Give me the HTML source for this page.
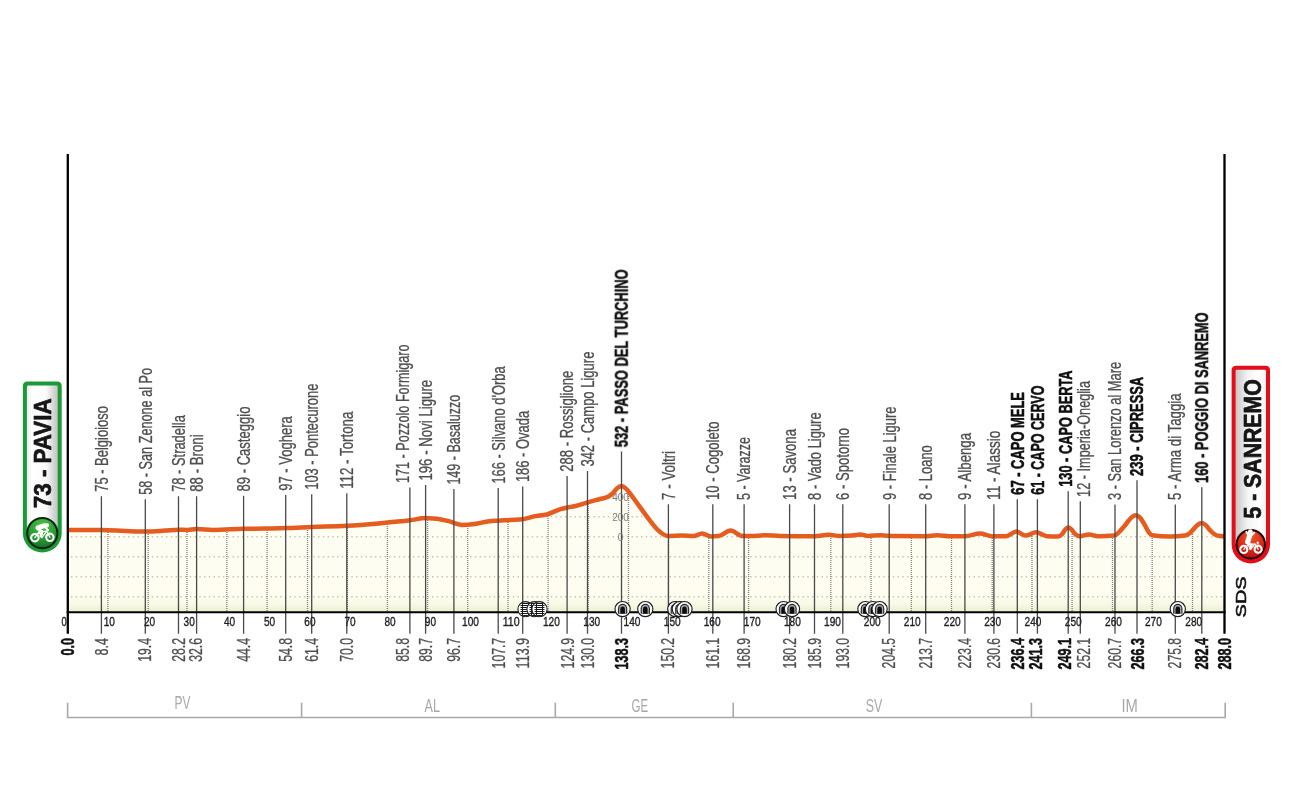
<!DOCTYPE html>
<html lang="it">
<head>
<meta charset="utf-8">
<title>Pavia - Sanremo, altimetria</title>
<style>
html,body{margin:0;padding:0;background:#fff;}
body{width:1300px;height:800px;overflow:hidden;}
svg{display:block;}
text{font-family:"Liberation Sans",sans-serif;}
.aa{filter:grayscale(1);}
.pl{font-size:17.6px;fill:#4e4e4e;stroke:#4e4e4e;stroke-width:.3px;}
.plb{font-size:17.9px;fill:#101010;font-weight:bold;stroke:#101010;stroke-width:.5px;}
.di{font-size:17.6px;fill:#4e4e4e;text-anchor:end;stroke:#4e4e4e;stroke-width:.3px;}
.dib{font-size:17.9px;fill:#101010;font-weight:bold;text-anchor:end;stroke:#101010;stroke-width:.5px;}
.tk{font-size:12.4px;fill:#1e1e1e;text-anchor:middle;stroke:#1e1e1e;stroke-width:.35px;}
.alt{font-size:10px;fill:#7d7d7d;text-anchor:middle;}
.pv{font-size:18px;fill:#a8a8a8;text-anchor:middle;}
.badge{font-size:23.6px;font-weight:bold;fill:#161616;stroke:#161616;stroke-width:.7px;stroke-linejoin:round;}
.sds{font-size:15px;fill:#111;stroke:#111;stroke-width:.55px;}
.lead{stroke:#4a4a4a;stroke-width:1.3;fill:none;}
.vdot{stroke:#7c7c7c;stroke-width:1.3;stroke-dasharray:1 1;fill:none;}
.hdot{stroke:#c2c5b2;stroke-width:1.4;stroke-dasharray:1.4 3.35;fill:none;}
</style>
</head>
<body>
<svg width="1300" height="800" viewBox="0 0 1300 800">
<defs>
<linearGradient id="gFill" gradientUnits="userSpaceOnUse" x1="0" y1="480" x2="0" y2="612">
<stop offset="0" stop-color="#fffef5"/><stop offset="0.88" stop-color="#fefdf0"/><stop offset="0.94" stop-color="#f8f9e6"/><stop offset="1" stop-color="#ebeed0"/>
</linearGradient>
<linearGradient id="gPavia" x1="0" y1="0" x2="1" y2="0">
<stop offset="0" stop-color="#ececec"/><stop offset="0.18" stop-color="#ffffff"/><stop offset="0.62" stop-color="#fbfbfb"/><stop offset="1" stop-color="#c2c2c2"/>
</linearGradient>
<linearGradient id="gSanremo" x1="0" y1="0" x2="1" y2="0">
<stop offset="0" stop-color="#c6c6c6"/><stop offset="0.4" stop-color="#f4f4f4"/><stop offset="0.8" stop-color="#ffffff"/><stop offset="1" stop-color="#f2f2f2"/>
</linearGradient>
<radialGradient id="gGreen" cx="0.5" cy="0.22" r="0.85">
<stop offset="0" stop-color="#4cc13f"/><stop offset="0.55" stop-color="#2a9e33"/><stop offset="1" stop-color="#15682a"/>
</radialGradient>
<radialGradient id="gRed" cx="0.5" cy="0.22" r="0.85">
<stop offset="0" stop-color="#f0572a"/><stop offset="0.55" stop-color="#dc2a18"/><stop offset="1" stop-color="#a80f10"/>
</radialGradient>
<clipPath id="cArea"><path d="M68,529.9 C79.1,529.90 90.3,529.90 101.4,529.9 C109.3,529.90 117.1,530.60 125,530.9 C131.8,531.16 138.5,531.60 145.3,531.6 C151.9,531.60 158.4,531.00 165,530.6 C169.5,530.33 174.0,529.70 178.5,529.7 C181.3,529.70 184.2,529.90 187,529.9 C190.2,529.90 193.4,529.00 196.6,529 C202.1,529.00 207.5,529.90 213,529.9 C223.2,529.90 233.4,529.04 243.6,528.8 C250.7,528.64 257.9,528.62 265,528.5 C271.9,528.38 278.8,528.30 285.7,528.1 C294.4,527.84 303.1,527.34 311.8,527 C323.4,526.55 335.1,526.45 346.7,525.8 C357.3,525.21 368.0,524.33 378.6,523.4 C389.1,522.49 399.5,521.62 410,520.3 C415.2,519.64 420.5,518.10 425.7,518.1 C433.4,518.10 441.1,519.13 448.8,521.2 C450.6,521.69 452.5,522.55 454.3,523.1 C456.8,523.84 459.2,524.90 461.7,524.9 C466.0,524.90 470.3,524.54 474.6,524 C479.5,523.38 484.5,521.72 489.4,521.2 C492.5,520.87 495.5,520.89 498.6,520.7 C502.3,520.47 506.0,520.13 509.7,519.9 C514.1,519.62 518.5,519.67 522.9,519.2 C526.6,518.81 530.3,517.17 534,516.4 C538.3,515.50 542.6,515.52 546.9,514.4 C551.2,513.18 555.5,510.67 559.8,509.4 C562.4,508.63 565.0,508.05 567.6,507.5 C569.9,507.00 572.3,506.73 574.6,506.2 C578.9,505.23 583.2,503.57 587.5,502.4 C591.7,501.17 595.8,500.13 600,499 C602.7,498.27 605.3,498.27 608,496.8 C609.7,495.88 611.3,494.74 613,493.1 C614.3,491.79 615.7,489.55 617,488.4 C618.5,487.11 620.0,486.10 621.5,486.1 C623.0,486.10 624.5,487.32 626,488.6 C628.0,490.31 630.0,493.49 632,496.1 C634.7,499.58 637.3,503.46 640,507.1 C643.3,511.65 646.7,516.40 650,520.6 C652.7,523.96 655.3,527.57 658,530.1 C659.7,531.68 661.3,533.11 663,534.1 C664.8,535.19 666.7,536.10 668.5,536.1 C672.9,536.10 677.3,535.60 681.7,535.6 C685.7,535.60 689.7,536.10 693.7,536.1 C696.5,536.10 699.2,533.40 702,533.4 C705.1,533.40 708.1,536.50 711.2,536.5 C713.7,536.50 716.1,536.37 718.6,536.1 C722.6,535.67 726.6,530.60 730.6,530.6 C734.6,530.60 738.6,536.10 742.6,536.1 C745.1,536.10 747.5,536.10 750,536.1 C755.3,536.10 760.5,535.20 765.8,535.2 C770.5,535.20 775.3,535.95 780,536 C791.7,536.13 803.3,536.20 815,536.2 C819.5,536.20 824.1,534.80 828.6,534.8 C832.4,534.80 836.2,536.00 840,536 C844.0,536.00 848.0,535.87 852,535.6 C854.7,535.42 857.3,534.40 860,534.4 C862.7,534.40 865.3,536.00 868,536 C872.1,536.00 876.2,535.20 880.3,535.2 C885.2,535.20 890.1,536.07 895,536.1 C905.0,536.17 915.0,536.20 925,536.2 C929.2,536.20 933.3,535.20 937.5,535.2 C941.7,535.20 945.8,536.20 950,536.2 C955.0,536.20 960.0,536.20 965,536.2 C970.0,536.20 975.0,533.60 980,533.6 C984.0,533.60 988.0,536.20 992,536.2 C996.7,536.20 1001.3,536.20 1006,536.2 C1009.5,536.20 1012.9,531.60 1016.4,531.6 C1019.5,531.60 1022.5,535.60 1025.6,535.6 C1029.1,535.60 1032.5,532.20 1036,532.2 C1039.7,532.20 1043.3,535.93 1047,536.2 C1050.7,536.47 1054.3,536.60 1058,536.6 C1059.3,536.60 1060.7,535.55 1062,534.2 C1063.2,532.98 1064.4,530.31 1065.6,529.2 C1066.5,528.33 1067.5,527.60 1068.4,527.6 C1069.3,527.60 1070.3,528.41 1071.2,529.2 C1072.5,530.27 1073.7,532.66 1075,533.8 C1076.5,535.18 1078.1,536.20 1079.6,536.2 C1082.7,536.20 1085.9,534.60 1089,534.6 C1092.0,534.60 1095.0,536.20 1098,536.2 C1103.3,536.20 1108.7,536.00 1114,535.6 C1115.7,535.48 1117.3,533.60 1119,532.1 C1120.7,530.60 1122.3,528.60 1124,526.6 C1125.5,524.80 1127.0,522.56 1128.5,520.8 C1129.7,519.43 1130.8,517.92 1132,517 C1133.3,515.95 1134.7,515.20 1136,515.2 C1137.3,515.20 1138.7,516.20 1140,517.6 C1141.3,519.00 1142.7,521.42 1144,523.6 C1145.7,526.32 1147.3,530.57 1149,532.6 C1150.0,533.82 1151.0,535.04 1152,535.2 C1158.0,536.13 1164.0,536.60 1170,536.6 C1175.0,536.60 1180.0,536.27 1185,535.6 C1186.7,535.38 1188.3,534.40 1190,533 C1191.3,531.88 1192.7,530.00 1194,528.6 C1195.3,527.20 1196.7,525.54 1198,524.6 C1199.2,523.75 1200.4,523.00 1201.6,523 C1202.9,523.00 1204.3,523.90 1205.6,525 C1207.1,526.21 1208.5,528.67 1210,530.2 C1211.7,531.93 1213.3,533.67 1215,534.6 C1216.7,535.53 1218.3,535.83 1220,536 C1221.3,536.13 1222.7,536.17 1224,536.2 L1224,612.2 L68,612.2 Z"/></clipPath>
<clipPath id="cIcon"><circle cx="0" cy="-0.3" r="7"/></clipPath>
<g id="xing">
<circle cx="0" cy="-0.3" r="7.6" fill="#fff" stroke="#1c1c1c" stroke-width="1.1"/>
<g clip-path="url(#cIcon)" stroke="#1a1a1a" fill="none">
<path d="M-3,-8V8M3,-8V8" stroke-width="1"/>
<path d="M-5,-6H5M-5,-4H5M-5,-2H5M-5,0H5M-5,2H5M-5,4H5M-5,6H5" stroke-width="1"/>
</g>
</g>
<g id="tun">
<circle cx="0" cy="0" r="7.6" fill="#fff" stroke="#1c1c1c" stroke-width="1.15"/>
<path d="M-4.7,4.7V-0.6A4.7,4.7 0 0 1 4.7,-0.6V4.7Z" fill="#2e2e2e"/>
<path d="M-3.5,4.7V-0.5A3.5,3.5 0 0 1 3.5,-0.5V4.7Z" fill="#a9a9a9"/>
<path d="M-2.3,4.7V-0.2A2.3,2.3 0 0 1 2.3,-0.2V4.7Z" fill="#0c0c0c"/>
</g>
</defs>
<!-- elevation area -->
<path d="M68,529.9 C79.1,529.90 90.3,529.90 101.4,529.9 C109.3,529.90 117.1,530.60 125,530.9 C131.8,531.16 138.5,531.60 145.3,531.6 C151.9,531.60 158.4,531.00 165,530.6 C169.5,530.33 174.0,529.70 178.5,529.7 C181.3,529.70 184.2,529.90 187,529.9 C190.2,529.90 193.4,529.00 196.6,529 C202.1,529.00 207.5,529.90 213,529.9 C223.2,529.90 233.4,529.04 243.6,528.8 C250.7,528.64 257.9,528.62 265,528.5 C271.9,528.38 278.8,528.30 285.7,528.1 C294.4,527.84 303.1,527.34 311.8,527 C323.4,526.55 335.1,526.45 346.7,525.8 C357.3,525.21 368.0,524.33 378.6,523.4 C389.1,522.49 399.5,521.62 410,520.3 C415.2,519.64 420.5,518.10 425.7,518.1 C433.4,518.10 441.1,519.13 448.8,521.2 C450.6,521.69 452.5,522.55 454.3,523.1 C456.8,523.84 459.2,524.90 461.7,524.9 C466.0,524.90 470.3,524.54 474.6,524 C479.5,523.38 484.5,521.72 489.4,521.2 C492.5,520.87 495.5,520.89 498.6,520.7 C502.3,520.47 506.0,520.13 509.7,519.9 C514.1,519.62 518.5,519.67 522.9,519.2 C526.6,518.81 530.3,517.17 534,516.4 C538.3,515.50 542.6,515.52 546.9,514.4 C551.2,513.18 555.5,510.67 559.8,509.4 C562.4,508.63 565.0,508.05 567.6,507.5 C569.9,507.00 572.3,506.73 574.6,506.2 C578.9,505.23 583.2,503.57 587.5,502.4 C591.7,501.17 595.8,500.13 600,499 C602.7,498.27 605.3,498.27 608,496.8 C609.7,495.88 611.3,494.74 613,493.1 C614.3,491.79 615.7,489.55 617,488.4 C618.5,487.11 620.0,486.10 621.5,486.1 C623.0,486.10 624.5,487.32 626,488.6 C628.0,490.31 630.0,493.49 632,496.1 C634.7,499.58 637.3,503.46 640,507.1 C643.3,511.65 646.7,516.40 650,520.6 C652.7,523.96 655.3,527.57 658,530.1 C659.7,531.68 661.3,533.11 663,534.1 C664.8,535.19 666.7,536.10 668.5,536.1 C672.9,536.10 677.3,535.60 681.7,535.6 C685.7,535.60 689.7,536.10 693.7,536.1 C696.5,536.10 699.2,533.40 702,533.4 C705.1,533.40 708.1,536.50 711.2,536.5 C713.7,536.50 716.1,536.37 718.6,536.1 C722.6,535.67 726.6,530.60 730.6,530.6 C734.6,530.60 738.6,536.10 742.6,536.1 C745.1,536.10 747.5,536.10 750,536.1 C755.3,536.10 760.5,535.20 765.8,535.2 C770.5,535.20 775.3,535.95 780,536 C791.7,536.13 803.3,536.20 815,536.2 C819.5,536.20 824.1,534.80 828.6,534.8 C832.4,534.80 836.2,536.00 840,536 C844.0,536.00 848.0,535.87 852,535.6 C854.7,535.42 857.3,534.40 860,534.4 C862.7,534.40 865.3,536.00 868,536 C872.1,536.00 876.2,535.20 880.3,535.2 C885.2,535.20 890.1,536.07 895,536.1 C905.0,536.17 915.0,536.20 925,536.2 C929.2,536.20 933.3,535.20 937.5,535.2 C941.7,535.20 945.8,536.20 950,536.2 C955.0,536.20 960.0,536.20 965,536.2 C970.0,536.20 975.0,533.60 980,533.6 C984.0,533.60 988.0,536.20 992,536.2 C996.7,536.20 1001.3,536.20 1006,536.2 C1009.5,536.20 1012.9,531.60 1016.4,531.6 C1019.5,531.60 1022.5,535.60 1025.6,535.6 C1029.1,535.60 1032.5,532.20 1036,532.2 C1039.7,532.20 1043.3,535.93 1047,536.2 C1050.7,536.47 1054.3,536.60 1058,536.6 C1059.3,536.60 1060.7,535.55 1062,534.2 C1063.2,532.98 1064.4,530.31 1065.6,529.2 C1066.5,528.33 1067.5,527.60 1068.4,527.6 C1069.3,527.60 1070.3,528.41 1071.2,529.2 C1072.5,530.27 1073.7,532.66 1075,533.8 C1076.5,535.18 1078.1,536.20 1079.6,536.2 C1082.7,536.20 1085.9,534.60 1089,534.6 C1092.0,534.60 1095.0,536.20 1098,536.2 C1103.3,536.20 1108.7,536.00 1114,535.6 C1115.7,535.48 1117.3,533.60 1119,532.1 C1120.7,530.60 1122.3,528.60 1124,526.6 C1125.5,524.80 1127.0,522.56 1128.5,520.8 C1129.7,519.43 1130.8,517.92 1132,517 C1133.3,515.95 1134.7,515.20 1136,515.2 C1137.3,515.20 1138.7,516.20 1140,517.6 C1141.3,519.00 1142.7,521.42 1144,523.6 C1145.7,526.32 1147.3,530.57 1149,532.6 C1150.0,533.82 1151.0,535.04 1152,535.2 C1158.0,536.13 1164.0,536.60 1170,536.6 C1175.0,536.60 1180.0,536.27 1185,535.6 C1186.7,535.38 1188.3,534.40 1190,533 C1191.3,531.88 1192.7,530.00 1194,528.6 C1195.3,527.20 1196.7,525.54 1198,524.6 C1199.2,523.75 1200.4,523.00 1201.6,523 C1202.9,523.00 1204.3,523.90 1205.6,525 C1207.1,526.21 1208.5,528.67 1210,530.2 C1211.7,531.93 1213.3,533.67 1215,534.6 C1216.7,535.53 1218.3,535.83 1220,536 C1221.3,536.13 1222.7,536.17 1224,536.2 L1224,612.2 L68,612.2 Z" fill="url(#gFill)"/>
<g clip-path="url(#cArea)">
<path class="hdot" d="M66.3,496.8H1226 M66.3,516.8H1226 M66.3,536.8H1226 M66.3,556.8H1226 M66.3,576.8H1226 M66.3,596.8H1226"/>
<path class="vdot" d="M107.9,470V612 M148.2,470V612 M187,470V612 M226.8,470V612 M267.1,470V612 M307.5,470V612 M347.4,470V612 M387.4,470V612 M427.6,470V612 M467.7,470V612 M508,470V612 M548.1,470V612 M588.2,470V612 M628.5,470V612 M668.6,470V612 M708.8,470V612 M748.6,470V612 M789.6,470V612 M830.8,470V612 M871,470V612 M911.3,470V612 M951.5,470V612 M992.2,470V612 M1032,470V612 M1072.1,470V612 M1112.5,470V612 M1152.2,470V612 M1192.5,470V612"/>
</g>
<!-- profile line -->
<path d="M68,529.9 C79.1,529.90 90.3,529.90 101.4,529.9 C109.3,529.90 117.1,530.60 125,530.9 C131.8,531.16 138.5,531.60 145.3,531.6 C151.9,531.60 158.4,531.00 165,530.6 C169.5,530.33 174.0,529.70 178.5,529.7 C181.3,529.70 184.2,529.90 187,529.9 C190.2,529.90 193.4,529.00 196.6,529 C202.1,529.00 207.5,529.90 213,529.9 C223.2,529.90 233.4,529.04 243.6,528.8 C250.7,528.64 257.9,528.62 265,528.5 C271.9,528.38 278.8,528.30 285.7,528.1 C294.4,527.84 303.1,527.34 311.8,527 C323.4,526.55 335.1,526.45 346.7,525.8 C357.3,525.21 368.0,524.33 378.6,523.4 C389.1,522.49 399.5,521.62 410,520.3 C415.2,519.64 420.5,518.10 425.7,518.1 C433.4,518.10 441.1,519.13 448.8,521.2 C450.6,521.69 452.5,522.55 454.3,523.1 C456.8,523.84 459.2,524.90 461.7,524.9 C466.0,524.90 470.3,524.54 474.6,524 C479.5,523.38 484.5,521.72 489.4,521.2 C492.5,520.87 495.5,520.89 498.6,520.7 C502.3,520.47 506.0,520.13 509.7,519.9 C514.1,519.62 518.5,519.67 522.9,519.2 C526.6,518.81 530.3,517.17 534,516.4 C538.3,515.50 542.6,515.52 546.9,514.4 C551.2,513.18 555.5,510.67 559.8,509.4 C562.4,508.63 565.0,508.05 567.6,507.5 C569.9,507.00 572.3,506.73 574.6,506.2 C578.9,505.23 583.2,503.57 587.5,502.4 C591.7,501.17 595.8,500.13 600,499 C602.7,498.27 605.3,498.27 608,496.8 C609.7,495.88 611.3,494.74 613,493.1 C614.3,491.79 615.7,489.55 617,488.4 C618.5,487.11 620.0,486.10 621.5,486.1 C623.0,486.10 624.5,487.32 626,488.6 C628.0,490.31 630.0,493.49 632,496.1 C634.7,499.58 637.3,503.46 640,507.1 C643.3,511.65 646.7,516.40 650,520.6 C652.7,523.96 655.3,527.57 658,530.1 C659.7,531.68 661.3,533.11 663,534.1 C664.8,535.19 666.7,536.10 668.5,536.1 C672.9,536.10 677.3,535.60 681.7,535.6 C685.7,535.60 689.7,536.10 693.7,536.1 C696.5,536.10 699.2,533.40 702,533.4 C705.1,533.40 708.1,536.50 711.2,536.5 C713.7,536.50 716.1,536.37 718.6,536.1 C722.6,535.67 726.6,530.60 730.6,530.6 C734.6,530.60 738.6,536.10 742.6,536.1 C745.1,536.10 747.5,536.10 750,536.1 C755.3,536.10 760.5,535.20 765.8,535.2 C770.5,535.20 775.3,535.95 780,536 C791.7,536.13 803.3,536.20 815,536.2 C819.5,536.20 824.1,534.80 828.6,534.8 C832.4,534.80 836.2,536.00 840,536 C844.0,536.00 848.0,535.87 852,535.6 C854.7,535.42 857.3,534.40 860,534.4 C862.7,534.40 865.3,536.00 868,536 C872.1,536.00 876.2,535.20 880.3,535.2 C885.2,535.20 890.1,536.07 895,536.1 C905.0,536.17 915.0,536.20 925,536.2 C929.2,536.20 933.3,535.20 937.5,535.2 C941.7,535.20 945.8,536.20 950,536.2 C955.0,536.20 960.0,536.20 965,536.2 C970.0,536.20 975.0,533.60 980,533.6 C984.0,533.60 988.0,536.20 992,536.2 C996.7,536.20 1001.3,536.20 1006,536.2 C1009.5,536.20 1012.9,531.60 1016.4,531.6 C1019.5,531.60 1022.5,535.60 1025.6,535.6 C1029.1,535.60 1032.5,532.20 1036,532.2 C1039.7,532.20 1043.3,535.93 1047,536.2 C1050.7,536.47 1054.3,536.60 1058,536.6 C1059.3,536.60 1060.7,535.55 1062,534.2 C1063.2,532.98 1064.4,530.31 1065.6,529.2 C1066.5,528.33 1067.5,527.60 1068.4,527.6 C1069.3,527.60 1070.3,528.41 1071.2,529.2 C1072.5,530.27 1073.7,532.66 1075,533.8 C1076.5,535.18 1078.1,536.20 1079.6,536.2 C1082.7,536.20 1085.9,534.60 1089,534.6 C1092.0,534.60 1095.0,536.20 1098,536.2 C1103.3,536.20 1108.7,536.00 1114,535.6 C1115.7,535.48 1117.3,533.60 1119,532.1 C1120.7,530.60 1122.3,528.60 1124,526.6 C1125.5,524.80 1127.0,522.56 1128.5,520.8 C1129.7,519.43 1130.8,517.92 1132,517 C1133.3,515.95 1134.7,515.20 1136,515.2 C1137.3,515.20 1138.7,516.20 1140,517.6 C1141.3,519.00 1142.7,521.42 1144,523.6 C1145.7,526.32 1147.3,530.57 1149,532.6 C1150.0,533.82 1151.0,535.04 1152,535.2 C1158.0,536.13 1164.0,536.60 1170,536.6 C1175.0,536.60 1180.0,536.27 1185,535.6 C1186.7,535.38 1188.3,534.40 1190,533 C1191.3,531.88 1192.7,530.00 1194,528.6 C1195.3,527.20 1196.7,525.54 1198,524.6 C1199.2,523.75 1200.4,523.00 1201.6,523 C1202.9,523.00 1204.3,523.90 1205.6,525 C1207.1,526.21 1208.5,528.67 1210,530.2 C1211.7,531.93 1213.3,533.67 1215,534.6 C1216.7,535.53 1218.3,535.83 1220,536 C1221.3,536.13 1222.7,536.17 1224,536.2" fill="none" stroke="#e55c1e" stroke-width="4.5" stroke-linejoin="round" stroke-linecap="butt"/>
<!-- leader lines -->
<path class="lead" d="M101.4,496.2V633.8 M145.3,499.2V633.8 M178.5,496.2V633.8 M196.6,496.2V633.8 M243.6,495.8V633.8 M285.7,495.1V633.8 M311.7,494.2V633.8 M346.8,493.2V633.8 M409.9,487.5V633.8 M425.6,485V633.8 M453.9,489V633.8 M498.2,488.1V633.8 M522.7,486.5V633.8 M567.1,476.1V633.8 M587.5,471V633.8 M621.5,451.6V633.8 M668.4,504.3V633.8 M712.8,504.3V633.8 M744.1,504.3V633.8 M789.6,504.3V633.8 M814.5,504.3V633.8 M842.8,504.3V633.8 M889.2,504.3V633.8 M925.7,504.3V633.8 M964.9,504.3V633.8 M993.9,504.3V633.8 M1017.3,499.2V633.8 M1037.4,499.2V633.8 M1068.2,491.2V633.8 M1080.3,501.3V633.8 M1115,504.4V633.8 M1137,480.3V633.8 M1175.3,504.4V633.8 M1201.8,487.3V633.8"/>
<!-- altitude scale -->
<text class="alt aa" x="620.5" y="500.5">400</text>
<text class="alt aa" x="620.5" y="520.9">200</text>
<text class="alt aa" x="620.5" y="540.6">0</text>
<!-- axes -->
<path d="M67.8,154V633.8M1224.5,154V633.8" stroke="#000" stroke-width="2.3" fill="none"/>
<path d="M66.7,612.2H1225.6" stroke="#000" stroke-width="2" fill="none"/>
<!-- level crossings and tunnels -->
<use href="#xing" x="525.5" y="609.5"/>
<use href="#xing" x="534.5" y="609.5"/>
<use href="#xing" x="539.5" y="609.5"/>
<use href="#tun" x="622.6" y="609.1"/>
<use href="#tun" x="645.3" y="609.1"/>
<use href="#tun" x="675.3" y="609.1"/>
<use href="#tun" x="679.8" y="609.1"/>
<use href="#tun" x="684.5" y="609.1"/>
<use href="#tun" x="783.6" y="609.1"/>
<use href="#tun" x="792" y="609.1"/>
<use href="#tun" x="865.4" y="609.1"/>
<use href="#tun" x="872.9" y="609.1"/>
<use href="#tun" x="879.6" y="609.1"/>
<use href="#tun" x="1177.8" y="609.1"/>
<!-- km ticks -->
<g class="tk aa">
<text x="64.2" y="625.8" textLength="5.2" lengthAdjust="spacingAndGlyphs">0</text>
<text x="109.3" y="625.8" textLength="11.2" lengthAdjust="spacingAndGlyphs">10</text>
<text x="149.6" y="625.8" textLength="11.2" lengthAdjust="spacingAndGlyphs">20</text>
<text x="189.2" y="625.8" textLength="11.2" lengthAdjust="spacingAndGlyphs">30</text>
<text x="229.5" y="625.8" textLength="11.2" lengthAdjust="spacingAndGlyphs">40</text>
<text x="269.6" y="625.8" textLength="11.2" lengthAdjust="spacingAndGlyphs">50</text>
<text x="309.9" y="625.8" textLength="11.2" lengthAdjust="spacingAndGlyphs">60</text>
<text x="350" y="625.8" textLength="11.2" lengthAdjust="spacingAndGlyphs">70</text>
<text x="390.1" y="625.8" textLength="11.2" lengthAdjust="spacingAndGlyphs">80</text>
<text x="430.4" y="625.8" textLength="11.2" lengthAdjust="spacingAndGlyphs">90</text>
<text x="470.5" y="625.8" textLength="16.9" lengthAdjust="spacingAndGlyphs">100</text>
<text x="511.2" y="625.8" textLength="16.9" lengthAdjust="spacingAndGlyphs">110</text>
<text x="551.4" y="625.8" textLength="16.9" lengthAdjust="spacingAndGlyphs">120</text>
<text x="591.7" y="625.8" textLength="16.9" lengthAdjust="spacingAndGlyphs">130</text>
<text x="632" y="625.8" textLength="16.9" lengthAdjust="spacingAndGlyphs">140</text>
<text x="672.2" y="625.8" textLength="16.9" lengthAdjust="spacingAndGlyphs">150</text>
<text x="712.1" y="625.8" textLength="16.9" lengthAdjust="spacingAndGlyphs">160</text>
<text x="752.2" y="625.8" textLength="16.9" lengthAdjust="spacingAndGlyphs">170</text>
<text x="792.4" y="625.8" textLength="16.9" lengthAdjust="spacingAndGlyphs">180</text>
<text x="832.5" y="625.8" textLength="16.9" lengthAdjust="spacingAndGlyphs">190</text>
<text x="872.3" y="625.8" textLength="16.9" lengthAdjust="spacingAndGlyphs">200</text>
<text x="912.3" y="625.8" textLength="16.9" lengthAdjust="spacingAndGlyphs">210</text>
<text x="952.3" y="625.8" textLength="16.9" lengthAdjust="spacingAndGlyphs">220</text>
<text x="992.6" y="625.8" textLength="16.9" lengthAdjust="spacingAndGlyphs">230</text>
<text x="1033" y="625.8" textLength="16.9" lengthAdjust="spacingAndGlyphs">240</text>
<text x="1073.3" y="625.8" textLength="16.9" lengthAdjust="spacingAndGlyphs">250</text>
<text x="1113.5" y="625.8" textLength="16.9" lengthAdjust="spacingAndGlyphs">260</text>
<text x="1153.4" y="625.8" textLength="16.9" lengthAdjust="spacingAndGlyphs">270</text>
<text x="1193.8" y="625.8" textLength="16.9" lengthAdjust="spacingAndGlyphs">280</text>
</g>
<!-- progressive distances -->
<g class="aa">
<text class="dib" transform="translate(74.1,637.9) rotate(-90)" textLength="17.6" lengthAdjust="spacingAndGlyphs">0.0</text>
<text class="di" transform="translate(107.5,637.9) rotate(-90)" textLength="17.5" lengthAdjust="spacingAndGlyphs">8.4</text>
<text class="di" transform="translate(151.3,637.9) rotate(-90)" textLength="23.9" lengthAdjust="spacingAndGlyphs">19.4</text>
<text class="di" transform="translate(184.7,637.9) rotate(-90)" textLength="23.9" lengthAdjust="spacingAndGlyphs">28.2</text>
<text class="di" transform="translate(202.2,637.9) rotate(-90)" textLength="23.9" lengthAdjust="spacingAndGlyphs">32.6</text>
<text class="di" transform="translate(249.9,637.9) rotate(-90)" textLength="23.9" lengthAdjust="spacingAndGlyphs">44.4</text>
<text class="di" transform="translate(292.2,637.9) rotate(-90)" textLength="23.9" lengthAdjust="spacingAndGlyphs">54.8</text>
<text class="di" transform="translate(318.2,637.9) rotate(-90)" textLength="23.9" lengthAdjust="spacingAndGlyphs">61.4</text>
<text class="di" transform="translate(353.3,637.9) rotate(-90)" textLength="23.9" lengthAdjust="spacingAndGlyphs">70.0</text>
<text class="di" transform="translate(408.5,637.9) rotate(-90)" textLength="23.9" lengthAdjust="spacingAndGlyphs">85.8</text>
<text class="di" transform="translate(431.5,637.9) rotate(-90)" textLength="23.9" lengthAdjust="spacingAndGlyphs">89.7</text>
<text class="di" transform="translate(459.8,637.9) rotate(-90)" textLength="23.9" lengthAdjust="spacingAndGlyphs">96.7</text>
<text class="di" transform="translate(504.7,637.9) rotate(-90)" textLength="30.5" lengthAdjust="spacingAndGlyphs">107.7</text>
<text class="di" transform="translate(528.9,637.9) rotate(-90)" textLength="30.5" lengthAdjust="spacingAndGlyphs">113.9</text>
<text class="di" transform="translate(573.6,637.9) rotate(-90)" textLength="30.5" lengthAdjust="spacingAndGlyphs">124.9</text>
<text class="di" transform="translate(594,637.9) rotate(-90)" textLength="30.5" lengthAdjust="spacingAndGlyphs">130.0</text>
<text class="dib" transform="translate(628,637.9) rotate(-90)" textLength="31.6" lengthAdjust="spacingAndGlyphs">138.3</text>
<text class="di" transform="translate(674.3,637.9) rotate(-90)" textLength="30.5" lengthAdjust="spacingAndGlyphs">150.2</text>
<text class="di" transform="translate(719,637.9) rotate(-90)" textLength="30.5" lengthAdjust="spacingAndGlyphs">161.1</text>
<text class="di" transform="translate(750.1,637.9) rotate(-90)" textLength="30.5" lengthAdjust="spacingAndGlyphs">168.9</text>
<text class="di" transform="translate(795.6,637.9) rotate(-90)" textLength="30.5" lengthAdjust="spacingAndGlyphs">180.2</text>
<text class="di" transform="translate(820.6,637.9) rotate(-90)" textLength="30.5" lengthAdjust="spacingAndGlyphs">185.9</text>
<text class="di" transform="translate(849,637.9) rotate(-90)" textLength="30.5" lengthAdjust="spacingAndGlyphs">193.0</text>
<text class="di" transform="translate(895.3,637.9) rotate(-90)" textLength="30.5" lengthAdjust="spacingAndGlyphs">204.5</text>
<text class="di" transform="translate(932.2,637.9) rotate(-90)" textLength="30.5" lengthAdjust="spacingAndGlyphs">213.7</text>
<text class="di" transform="translate(971.2,637.9) rotate(-90)" textLength="30.5" lengthAdjust="spacingAndGlyphs">223.4</text>
<text class="di" transform="translate(1000.2,637.9) rotate(-90)" textLength="30.5" lengthAdjust="spacingAndGlyphs">230.6</text>
<text class="dib" transform="translate(1023.6,637.9) rotate(-90)" textLength="31.6" lengthAdjust="spacingAndGlyphs">236.4</text>
<text class="dib" transform="translate(1041.5,637.9) rotate(-90)" textLength="31.6" lengthAdjust="spacingAndGlyphs">241.3</text>
<text class="dib" transform="translate(1071.1,637.9) rotate(-90)" textLength="31.6" lengthAdjust="spacingAndGlyphs">249.1</text>
<text class="di" transform="translate(1089.5,637.9) rotate(-90)" textLength="30.5" lengthAdjust="spacingAndGlyphs">252.1</text>
<text class="di" transform="translate(1121,637.9) rotate(-90)" textLength="30.5" lengthAdjust="spacingAndGlyphs">260.7</text>
<text class="dib" transform="translate(1144,637.9) rotate(-90)" textLength="31.6" lengthAdjust="spacingAndGlyphs">266.3</text>
<text class="di" transform="translate(1180.7,637.9) rotate(-90)" textLength="30.5" lengthAdjust="spacingAndGlyphs">275.8</text>
<text class="dib" transform="translate(1208.2,637.9) rotate(-90)" textLength="31.6" lengthAdjust="spacingAndGlyphs">282.4</text>
<text class="dib" transform="translate(1230.8,637.9) rotate(-90)" textLength="31.6" lengthAdjust="spacingAndGlyphs">288.0</text>
</g>
<!-- localities -->
<g class="aa">
<text class="pl" transform="translate(107.7,491.8) rotate(-90)" textLength="85.7" lengthAdjust="spacingAndGlyphs">75 - Belgioioso</text>
<text class="pl" transform="translate(151.6,494.8) rotate(-90)" textLength="126.9" lengthAdjust="spacingAndGlyphs">58 - San Zenone al Po</text>
<text class="pl" transform="translate(184.8,491.8) rotate(-90)" textLength="76.6" lengthAdjust="spacingAndGlyphs">78 - Stradella</text>
<text class="pl" transform="translate(202.9,491.8) rotate(-90)" textLength="57.5" lengthAdjust="spacingAndGlyphs">88 - Broni</text>
<text class="pl" transform="translate(249.9,491.4) rotate(-90)" textLength="84.8" lengthAdjust="spacingAndGlyphs">89 - Casteggio</text>
<text class="pl" transform="translate(292,490.7) rotate(-90)" textLength="74.4" lengthAdjust="spacingAndGlyphs">97 - Voghera</text>
<text class="pl" transform="translate(318,489.8) rotate(-90)" textLength="106.2" lengthAdjust="spacingAndGlyphs">103 - Pontecurone</text>
<text class="pl" transform="translate(353.1,488.8) rotate(-90)" textLength="77.2" lengthAdjust="spacingAndGlyphs">112 - Tortona</text>
<text class="pl" transform="translate(408.8,483.1) rotate(-90)" textLength="138.7" lengthAdjust="spacingAndGlyphs">171 - Pozzolo Formigaro</text>
<text class="pl" transform="translate(431.9,480.6) rotate(-90)" textLength="100.8" lengthAdjust="spacingAndGlyphs">196 - Novi Ligure</text>
<text class="pl" transform="translate(460.2,484.6) rotate(-90)" textLength="89.7" lengthAdjust="spacingAndGlyphs">149 - Basaluzzo</text>
<text class="pl" transform="translate(504.5,483.7) rotate(-90)" textLength="117.3" lengthAdjust="spacingAndGlyphs">166 - Silvano d'Orba</text>
<text class="pl" transform="translate(529,482.1) rotate(-90)" textLength="71.3" lengthAdjust="spacingAndGlyphs">186 - Ovada</text>
<text class="pl" transform="translate(573.4,471.7) rotate(-90)" textLength="101" lengthAdjust="spacingAndGlyphs">288 - Rossiglione</text>
<text class="pl" transform="translate(593.8,466.6) rotate(-90)" textLength="115" lengthAdjust="spacingAndGlyphs">342 - Campo Ligure</text>
<text class="plb" transform="translate(627.8,447.2) rotate(-90)" textLength="177.8" lengthAdjust="spacingAndGlyphs">532 - PASSO DEL TURCHINO</text>
<text class="pl" transform="translate(674.7,499.9) rotate(-90)" textLength="49" lengthAdjust="spacingAndGlyphs">7 - Voltri</text>
<text class="pl" transform="translate(719.1,499.9) rotate(-90)" textLength="78.5" lengthAdjust="spacingAndGlyphs">10 - Cogoleto</text>
<text class="pl" transform="translate(750.4,499.9) rotate(-90)" textLength="62.8" lengthAdjust="spacingAndGlyphs">5 - Varazze</text>
<text class="pl" transform="translate(795.9,499.9) rotate(-90)" textLength="70.9" lengthAdjust="spacingAndGlyphs">13 - Savona</text>
<text class="pl" transform="translate(820.8,499.9) rotate(-90)" textLength="87.5" lengthAdjust="spacingAndGlyphs">8 - Vado Ligure</text>
<text class="pl" transform="translate(849.1,499.9) rotate(-90)" textLength="72" lengthAdjust="spacingAndGlyphs">6 - Spotorno</text>
<text class="pl" transform="translate(895.5,499.9) rotate(-90)" textLength="93.3" lengthAdjust="spacingAndGlyphs">9 - Finale Ligure</text>
<text class="pl" transform="translate(932,499.9) rotate(-90)" textLength="54.7" lengthAdjust="spacingAndGlyphs">8 - Loano</text>
<text class="pl" transform="translate(971.2,499.9) rotate(-90)" textLength="67" lengthAdjust="spacingAndGlyphs">9 - Albenga</text>
<text class="pl" transform="translate(1000.2,499.9) rotate(-90)" textLength="69.3" lengthAdjust="spacingAndGlyphs">11 - Alassio</text>
<text class="plb" transform="translate(1023.6,494.8) rotate(-90)" textLength="102.8" lengthAdjust="spacingAndGlyphs">67 - CAPO MELE</text>
<text class="plb" transform="translate(1043.7,494.8) rotate(-90)" textLength="109.2" lengthAdjust="spacingAndGlyphs">61 - CAPO CERVO</text>
<text class="plb" transform="translate(1071.7,486.8) rotate(-90)" textLength="116.4" lengthAdjust="spacingAndGlyphs">130 - CAPO BERTA</text>
<text class="pl" transform="translate(1090,496.9) rotate(-90)" textLength="115.9" lengthAdjust="spacingAndGlyphs">12 - Imperia-Oneglia</text>
<text class="pl" transform="translate(1121.3,500) rotate(-90)" textLength="138.2" lengthAdjust="spacingAndGlyphs">3 - San Lorenzo al Mare</text>
<text class="plb" transform="translate(1143.3,475.9) rotate(-90)" textLength="99.1" lengthAdjust="spacingAndGlyphs">239 - CIPRESSA</text>
<text class="pl" transform="translate(1180.9,500) rotate(-90)" textLength="106.6" lengthAdjust="spacingAndGlyphs">5 - Arma di Taggia</text>
<text class="plb" transform="translate(1208.1,482.9) rotate(-90)" textLength="170.5" lengthAdjust="spacingAndGlyphs">160 - POGGIO DI SANREMO</text>
</g>
<!-- provinces -->
<path d="M66.8,717.5H1226 M67.6,702.8V717.5 M301.6,702.8V717.5 M555.3,702.8V717.5 M733.2,702.8V717.5 M1031.4,702.8V717.5 M1225.2,702.8V717.5" stroke="#a9a9a9" stroke-width="1.6" fill="none"/>
<g class="pv aa">
<text x="182.4" y="709.3" textLength="15.8" lengthAdjust="spacingAndGlyphs">PV</text>
<text x="432.3" y="711.5" textLength="15.4" lengthAdjust="spacingAndGlyphs">AL</text>
<text x="639.8" y="711.5" textLength="16.6" lengthAdjust="spacingAndGlyphs">GE</text>
<text x="874" y="711.5" textLength="16.6" lengthAdjust="spacingAndGlyphs">SV</text>
<text x="1129.6" y="711.5" textLength="16.4" lengthAdjust="spacingAndGlyphs">IM</text>
</g>
<!-- start badge -->
<path d="M22.9,386.1 Q22.9,381.5 27.5,381.5 H57.1 Q61.7,381.5 61.7,386.1 V533.2 A19.4,19.4 0 0 1 22.9,533.2 Z" fill="#1a9a36"/>
<path d="M26.9,386.9 Q26.9,385.5 28.3,385.5 H56.3 Q57.7,385.5 57.7,386.9 V533.2 H26.9 Z" fill="url(#gPavia)"/>
<circle cx="42.3" cy="533.2" r="16.1" fill="#08240d"/>
<circle cx="42.3" cy="533.2" r="14.1" fill="url(#gGreen)"/>
<text class="badge aa" transform="translate(50.7,508.2) rotate(-90)" textLength="109.8" lengthAdjust="spacingAndGlyphs">73 - PAVIA</text>
<g transform="translate(42.3,533.2)" fill="none" stroke="#fff" stroke-linecap="round" stroke-linejoin="round">
<circle cx="-7.4" cy="4.5" r="3.7" stroke-width="2.1"/>
<circle cx="7.6" cy="4.1" r="3.7" stroke-width="2.1"/>
<path d="M-7.4,4.5L-3.4,-1.4L4.4,-2L7.6,4.1M-3.4,-1.4L-0.4,4.4L4.4,-2" stroke-width="1.3"/>
<path d="M-4.4,-5.4L2.2,-7.6" stroke-width="4.8"/>
<path d="M2.6,-6.4L5.8,-3" stroke-width="2.1"/>
<path d="M-4.4,-4.4L-0.2,-1.6L-1.4,3" stroke-width="2.7"/>
<ellipse cx="4.5" cy="-7.8" rx="2.5" ry="2.1" fill="#fff" stroke="none"/>
</g>
<!-- finish badge -->
<path d="M1231.6,370.4 Q1231.6,365.8 1236.2,365.8 H1265.4 Q1270,365.8 1270,370.4 V544.3 A19.2,19.2 0 0 1 1231.6,544.3 Z" fill="#e50d1a"/>
<path d="M1235.6,371.2 Q1235.6,369.8 1237,369.8 H1264.6 Q1266,369.8 1266,371.2 V544.3 H1235.6 Z" fill="url(#gSanremo)"/>
<circle cx="1250.8" cy="544.3" r="15.2" fill="#1e0404"/>
<circle cx="1250.8" cy="544.3" r="13.2" fill="url(#gRed)"/>
<text class="badge aa" transform="translate(1260.8,518.6) rotate(-90)" textLength="139.4" lengthAdjust="spacingAndGlyphs">5 - SANREMO</text>
<g transform="translate(1250.8,544.3)" fill="none" stroke="#fff" stroke-linecap="round" stroke-linejoin="round">
<circle cx="-7" cy="5.1" r="3.55" stroke-width="2.1"/>
<circle cx="7.3" cy="4.9" r="3.55" stroke-width="2.1"/>
<path d="M-7,5.1L-2.8,0.4L4.2,-0.4L7.3,4.9M-2.8,0.4L-0.2,5L4.2,-0.4" stroke-width="1.3"/>
<path d="M-0.8,-9.6L-3.2,-2.4" stroke-width="5.2"/>
<path d="M1,-9.4L3.4,-11.6M-2.6,-9.4L-4.4,-12.4" stroke-width="2"/>
<path d="M-3.2,-2L0.6,0.8L-0.4,4.4" stroke-width="2.7"/>
<circle cx="6.9" cy="-1.6" r="1.2" fill="#fff" stroke="none"/>
<circle cx="-0.5" cy="-12.6" r="2.4" fill="#fff" stroke="none"/>
</g>
<!-- designer mark -->
<text class="sds aa" transform="translate(1245.6,617.4) rotate(-90)" textLength="41" lengthAdjust="spacingAndGlyphs">SDS</text>
</svg>
</body>
</html>
